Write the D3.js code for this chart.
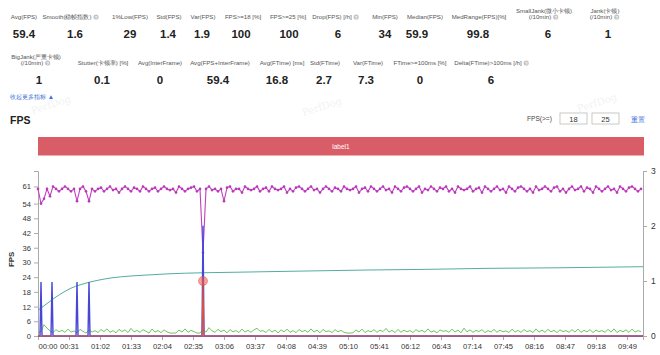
<!DOCTYPE html>
<html><head><meta charset="utf-8">
<script src="https://cdn.jsdelivr.net/npm/d3@7/dist/d3.min.js"></script>
<style>
html,body{margin:0;padding:0;background:#fff;}
svg{display:block;font-family:"Liberation Sans",Arial,Helvetica,sans-serif;}
</style></head><body>
<svg id="c" width="660" height="355"></svg>
<script>
// ---------- DATA ----------
const statLabels1 = [["Avg(FPS)"],["Smooth(稳帧指数)"],["1%Low(FPS)"],["Std(FPS)"],["Var(FPS)"],["FPS>=18 [%]"],["FPS>=25 [%]"],["Drop(FPS) [/h]"],["Min(FPS)"],["Median(FPS)"],["MedRange(FPS)[%]"],["SmallJank(微小卡顿)","(/10min)"],["Jank(卡顿)","(/10min)"]];
const statValues1 = ["59.4","1.6","29","1.4","1.9","100","100","6","34","59.9","99.8","6","1"];
const statHelp1 = [false,true,false,false,false,false,false,true,false,false,false,true,true];
const statLabels2 = [["BigJank(严重卡顿)","(/10min)"],["Stutter(卡顿率) [%]"],["Avg(InterFrame)"],["Avg(FPS+InterFrame)"],["Avg(FTime) [ms]"],["Std(FTime)"],["Var(FTime)"],["FTime>=100ms [%]"],["Delta(FTime)>100ms [/h]"]];
const statValues2 = ["1","0.1","0","59.4","16.8","2.7","7.3","0","6"];
const statHelp2 = [true,false,false,false,false,false,false,false,true];

const fpsStep = 3; // seconds between FPS samples
const fpsValues = [
60,54,56,60,57,61,60,59,60,61,60,59,60,55,60,61,59,55,60,59,
60,60.5,59,60,61,59.5,60,58.5,60,61,60,59,60.5,60,59,61,60,59,60,60.5,
59,60,61,60,59.5,60,58.5,61,60,59,60,60.5,61,59,60,34,60,61,59.5,60,
59,60,55,60.5,61,59,60,60,58.5,61,60,59.5,60,61,59,60,60.5,59,61,60,
59.5,60,61,58.5,60,59,60.5,61,60,59,60,61,59.5,60,58.5,60,61,60,59,60.5,
60,59,61,60,59.5,60,61,58.5,60,60.5,59,61,60,59,60,61,59.5,60,58.5,61,
60,59,60.5,61,60,59,60,61,58.5,60,59.5,61,60,59,60.5,60,61,59,60,58.5,
61,60,59.5,60,61,59,60,60.5,58.5,61,60,59,60,61,59.5,60,58.5,61,60,59,
60.5,61,60,59,60,58.5,61,59.5,60,61,60,59,60.5,61,59,60,58.5,60,61,59.5,
60,61,59,60.5,60,58.5,61,60,59,60,61,59.5,60,58.5,61,60,59,60.5,61,60,
59,60];
const greenValues = [
1.2,2.0,4.6,3.2,2.1,1.4,2.6,1.7,2.3,1.5,2.8,1.6,2.1,1.3,2.7,1.9,1.2,2.4,1.6,2.2,
1.4,2.6,1.8,2.9,1.5,2.2,1.3,2.7,1.8,2.5,1.4,3.1,1.7,2.3,1.5,2.6,1.9,1.2,2.8,1.6,
2.2,1.4,2.5,1.7,1.2,1.2,1.2,2.4,1.6,2.9,1.5,2.3,1.8,1.2,1.2,2.6,1.6,3.4,2.1,1.5,
2.7,1.8,2.4,1.3,2.6,1.7,2.2,1.4,2.8,1.6,2.3,1.5,2.5,3.2,1.9,2.2,1.4,2.7,1.6,2.4,
1.3,2.5,1.7,2.8,1.5,2.2,1.4,2.6,1.8,2.3,1.5,2.9,1.6,2.4,1.3,2.7,1.8,2.1,1.4,2.6,
1.7,2.3,1.5,1.2,1.2,1.3,2.5,1.6,2.8,1.4,2.2,1.7,2.6,1.5,2.4,1.8,3.1,1.6,2.3,1.4,
2.7,1.5,2.4,1.7,2.2,1.4,2.6,1.8,2.3,1.5,2.9,1.6,2.1,1.3,2.5,1.9,2.2,1.5,2.8,1.6,
2.4,1.3,3.2,1.7,2.5,1.5,2.3,1.8,2.6,1.4,2.2,1.6,2.7,1.5,2.4,1.7,2.1,1.4,2.8,1.6,
2.3,1.5,2.6,1.8,2.2,1.4,2.9,1.6,2.4,1.5,2.7,1.7,2.3,1.4,2.5,1.8,2.2,1.5,2.6,1.6,
2.8,1.5,2.3,1.7,2.6,1.4,2.4,1.8,2.2,1.5,2.7,1.6,2.9,1.4,2.3,1.7,2.5,1.5,2.8,1.6,
2.2,1.8];
const blueTimes  = [0,2,3,4,13,14,15,38,39,40,50,51,52,164,165,166,605];
const blueValues = [0,0,22,0,0,22,0,0,22,0,0,22,0,0,45,0,0];
const redTimes  = [0,164,165,166,605];
const redValues = [0,0,1,0,0];
const tealTimes  = [0,6,12,18,25,33,42,59,75,92,110,130,165,200,262,330,382,450,520,605];
const tealValues = [0.47,0.55,0.63,0.71,0.79,0.87,0.93,1.01,1.06,1.09,1.11,1.13,1.15,1.16,1.18,1.20,1.21,1.23,1.24,1.26];
const xTickSeconds = [0,31,62,93,124,155,186,217,248,279,310,341,372,403,434,465,496,527,558,589];
const leftTicks = [0,6,12,18,24,30,36,42,48,54,61];
const rightTicks = [0,1,2,3];

// ---------- LAYOUT ----------
const row1LX = [24,71,130,169,203,243,288,336,385,425,479,544,605];
const row1VX = [24,75,130,168,202,241,289,338,385,417,478,548,608];
const row2LX = [36,103,160,220,282,325,368,420,492];
const row2VX = [39,102,160,218,277,324,366,420,491];
const svg = d3.select("#c");

// watermarks
[[52,108],[323,110],[598,106]].forEach(p=>{
  svg.append("text").attr("transform",`translate(${p[0]},${p[1]}) rotate(-18)`)
    .attr("text-anchor","middle").attr("font-family","DejaVu Serif").attr("font-size",10)
    .attr("fill","#000").attr("opacity",0.05).text("PerfDog");
});

function helpIcon(x,y){
  svg.append("circle").attr("cx",x).attr("cy",y).attr("r",2.6).attr("fill","#c4c4c4");
  svg.append("text").attr("x",x).attr("y",y+1.6).attr("text-anchor","middle").attr("font-size",4.2)
    .attr("font-weight","bold").attr("fill","#fff").text("?");
}
function statRow(labels,values,help,lxs,vxs,labelY,valueY){
  labels.forEach((lab,i)=>{
    const lines = lab;
    lines.forEach((ln,j)=>{
      const y = lines.length===2 ? (j===0 ? labelY-6 : labelY) : labelY;
      const t = svg.append("text").attr("x",lxs[i]).attr("y",y).attr("text-anchor","middle")
        .attr("font-size",6.1).attr("fill","#555").text(ln);
      if(help[i] && j===lines.length-1){
        const w = t.node().getComputedTextLength();
        t.attr("x",lxs[i]-4);
        helpIcon(lxs[i]-4+w/2+4.5,y-2);
      }
    });
    svg.append("text").attr("x",vxs[i]).attr("y",valueY).attr("text-anchor","middle")
      .attr("font-size",11.5).attr("font-weight","bold").attr("fill","#222").text(values[i]);
  });
}
statRow(statLabels1,statValues1,statHelp1,row1LX,row1VX,19,37.5);
statRow(statLabels2,statValues2,statHelp2,row2LX,row2VX,65,84);

svg.append("text").attr("x",10).attr("y",99).attr("font-size",6.4).attr("fill","#3a6fd8").text("收起更多指标 ▲");
svg.append("text").attr("x",10).attr("y",124).attr("font-size",10.5).attr("font-weight","bold").attr("fill","#222").text("FPS");

// FPS threshold controls
svg.append("text").attr("x",527).attr("y",121).attr("font-size",6.6).attr("fill","#444").text("FPS(>=)");
[[560,"18"],[592,"25"]].forEach(b=>{
  svg.append("rect").attr("x",b[0]).attr("y",113).attr("width",27).attr("height",11)
    .attr("fill","#fff").attr("stroke","#bbb").attr("stroke-width",0.8);
  svg.append("text").attr("x",b[0]+13.5).attr("y",121.5).attr("text-anchor","middle").attr("font-size",7.5).attr("fill","#333").text(b[1]);
});
svg.append("text").attr("x",631).attr("y",121.5).attr("font-size",6.8).attr("fill","#3a6fd8").text("重置");

// label band
const plotL = 38, plotR = 643, plotT = 171, plotB = 336;
svg.append("rect").attr("x",plotL).attr("y",137).attr("width",606).attr("height",18.5).attr("fill","#d95d67");
svg.append("text").attr("x",(plotL+644)/2).attr("y",149).attr("text-anchor","middle").attr("font-size",6.5).attr("fill","#fff").text("label1");

// ---------- SCALES ----------
const x = d3.scaleLinear().domain([0,605]).range([plotL,plotR]);
const yL = d3.scaleLinear().domain([0,67.3]).range([plotB,plotT]);
const yR = d3.scaleLinear().domain([0,3]).range([plotB,plotT]);
const fmt = s => String(Math.floor(s/60)).padStart(2,"0")+":"+String(s%60).padStart(2,"0");

function styleAxis(g){
  g.select(".domain").attr("stroke","#aaa");
  g.selectAll(".tick line").attr("stroke","#aaa");
  g.selectAll(".tick text").attr("fill","#333").attr("font-size",7.6).attr("font-family","Liberation Sans, Arial, sans-serif");
}
const gx = svg.append("g").attr("transform",`translate(0,${plotB})`)
  .call(d3.axisBottom(x).tickValues(xTickSeconds).tickSize(4).tickPadding(4).tickFormat(fmt));
styleAxis(gx);
gx.selectAll(".tick text").filter(d=>d===0).attr("text-anchor","start");
const gl = svg.append("g").attr("transform",`translate(${plotL},0)`)
  .call(d3.axisLeft(yL).tickValues(leftTicks).tickSize(4).tickPadding(3).tickFormat(d3.format("d")));
styleAxis(gl);
const gr = svg.append("g").attr("transform",`translate(${plotR},0)`)
  .call(d3.axisRight(yR).tickValues(rightTicks).tickSize(4).tickPadding(4).tickFormat(d3.format("d")));
styleAxis(gr);
gr.selectAll(".tick text").attr("font-size",8.5);
svg.append("text").attr("transform",`translate(14,${(plotT+plotB)/2+6}) rotate(-90)`).attr("text-anchor","middle")
  .attr("font-size",7.8).attr("font-weight","bold").attr("fill","#333").text("FPS");

// ---------- SERIES ----------
const fpsData = fpsValues.map((v,i)=>[i*fpsStep,v]);
const greenData = greenValues.map((v,i)=>[i*fpsStep,v]);
const blueData = blueTimes.map((t,i)=>[t,blueValues[i]]);
const redData = redTimes.map((t,i)=>[t,redValues[i]]);
const tealData = tealTimes.map((t,i)=>[t,tealValues[i]]);

const lineL = d3.line().x(d=>x(d[0])).y(d=>yL(d[1]));
const lineR = d3.line().x(d=>x(d[0])).y(d=>yR(d[1]));

svg.append("path").datum(tealData).attr("d",lineR.curve(d3.curveMonotoneX)).attr("fill","none").attr("stroke","#52ada3").attr("stroke-width",1);
lineR.curve(d3.curveLinear);
svg.append("path").datum(greenData).attr("d",lineL).attr("fill","none").attr("stroke","#5cbf4a").attr("stroke-width",0.9);
svg.append("path").datum(fpsData).attr("d",lineL).attr("fill","none").attr("stroke","#c040c0").attr("stroke-width",1.1);
svg.append("g").selectAll("circle").data(fpsData).join("circle")
  .attr("cx",d=>x(d[0])).attr("cy",d=>yL(d[1])).attr("r",1.3).attr("fill","#b83ab8");
svg.append("path").datum(blueData).attr("d",lineL).attr("fill","none").attr("stroke","#4646d8").attr("stroke-width",1.4);
svg.append("path").datum(redData).attr("d",lineR).attr("fill","none").attr("stroke","#e0503c").attr("stroke-width",1.1);
svg.append("g").selectAll("circle").data(redData.filter(d=>d[1]>0)).join("circle")
  .attr("cx",d=>x(d[0])).attr("cy",d=>yR(d[1])).attr("r",4.5)
  .attr("fill","rgba(240,90,80,0.55)").attr("stroke","rgba(230,70,60,0.6)").attr("stroke-width",0.8);
</script>
</body></html>
